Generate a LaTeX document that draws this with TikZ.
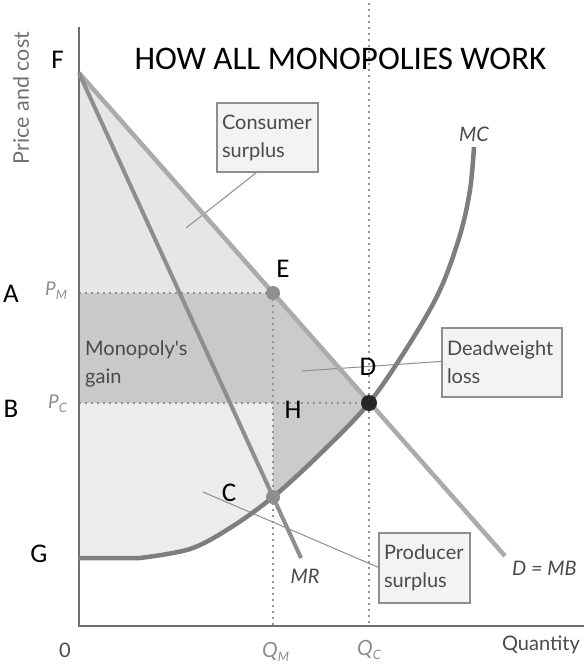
\documentclass[tikz,border=0pt]{standalone}
\usepackage{fontspec}
\setmainfont{Carlito}
\newfontfamily\lato{Lato}
\usetikzlibrary{calc}
\definecolor{csurf}{HTML}{E6E6E6}
\definecolor{mgain}{HTML}{C9C9C9}
\definecolor{psurf}{HTML}{ECECEC}
\definecolor{dwl}{HTML}{CBCBCB}
\definecolor{dline}{HTML}{ABABAB}
\definecolor{mrline}{HTML}{8E8E8E}
\definecolor{mcline}{HTML}{7E7E7E}
\definecolor{txtc}{HTML}{4A4A4A}
\definecolor{ltxt}{HTML}{8C8C8C}
\definecolor{boxc}{HTML}{8E8E8E}
\definecolor{boxfill}{HTML}{F3F3F3}
\definecolor{axisc}{HTML}{707070}
\definecolor{dotc}{HTML}{939393}
\newcommand\lowsub[1]{\raisebox{-0.45ex}{\fontsize{13}{13}\selectfont #1}}
\begin{document}
\begin{tikzpicture}[x=1pt,y=-1pt,
  lbl/.style={font=\fontsize{27}{30}\selectfont, text=black, inner sep=0, anchor=base},
  gtxt/.style={font=\lato\fontsize{20}{28}\selectfont, text=txtc, inner sep=0},
  itxt/.style={font=\lato\itshape\fontsize{20}{24}\selectfont, text=txtc, inner sep=0},
  ptxt/.style={font=\lato\itshape\fontsize{19}{24}\selectfont, text=ltxt, inner sep=0, anchor=base west},
  lbox/.style={draw=boxc, fill=boxfill, line width=1.2pt, align=left, inner xsep=5pt, inner ysep=0pt,
    font=\lato\fontsize{20}{28}\selectfont, text=txtc},
  ptr/.style={draw=boxc, line width=1pt},
  dotline/.style={draw=dotc, line width=1.8pt, dash pattern=on 1.8pt off 4.2pt},
  curve/.style={line width=4.5pt},
  pt/.style={circle, inner sep=0pt}]
\useasboundingbox (0,0) rectangle (584,668);
% key coordinates
\coordinate (O) at (79,626);
\coordinate (Ytop) at (79,27);
\coordinate (Xend) at (584,626);
\coordinate (F) at (79,73);
\coordinate (E) at (273,293);
\coordinate (D) at (369,403);
\coordinate (C) at (273,497);
\coordinate (H) at (273,403);
\coordinate (Dend) at (505,556);
\coordinate (MRend) at (301,558);
\coordinate (PM) at (79,293);
\coordinate (PC) at (79,403);
\coordinate (QM) at (273,626);
\coordinate (QC) at (369,626);
\coordinate (QCtop) at (369,3);
\coordinate (csp) at (186,228);
\coordinate (dwp) at (302,371);
\coordinate (psp) at (203,492);
% shaded areas
\fill[csurf] (F) -- (E) -- (PM) -- cycle;
\fill[mgain] (PM) -- (E) -- (H) -- (PC) -- cycle;
\fill[psurf] (PC) -- (H) -- (273,565) -- (79,565) -- cycle;
\fill[dwl] (E) -- (D) -- (369,565) -- (273,565) -- cycle;
\fill[white] (79,558) -- plot[smooth, tension=0.55] coordinates {(140,558) (190,549) (230,528) (273,497) (320,454) (369,403) (410,343) (440,290) (460,235) (470,190) (474,147)} -- (584,147) -- (584,610) -- (79,610) -- cycle;
% dotted guides
\draw[dotline] (PM) -- (E);
\draw[dotline] (PC) -- (D);
\draw[dotline] (E) -- (QM);
\draw[dotline] (QCtop) -- (QC);
% axes
\draw[axisc, line width=1.5pt] (Ytop) -- (O) -- (Xend);
% label boxes and pointers
\node[lbox, minimum width=101pt, minimum height=69pt, text width=91pt] (cbox) at (267.5,137.5) {Consumer\\surplus};
\node[lbox, minimum width=120pt, minimum height=69pt, text width=110pt] (dbox) at (502,362.5) {Deadweight\\loss};
\node[lbox, minimum width=91pt, minimum height=70pt, text width=81pt] (pbox) at (424.5,568) {Producer\\surplus};
\draw[ptr] ($(cbox.south west)+(40,0)$) -- (csp);
\draw[ptr] ($(dbox.north west)+(0,34)$) -- (dwp);
\draw[ptr] ($(pbox.north west)+(0,35)$) -- (psp);
% curves
\draw[curve, dline] (F) -- (Dend);
\draw[curve, mrline, line width=4pt] (F) -- (MRend);
\draw[curve, mcline] (79,558) -- plot[smooth, tension=0.55] coordinates {(140,558) (190,549) (230,528) (273,497) (320,454) (369,403) (410,343) (440,290) (460,235) (470,190) (474,147)};
% points
\node[pt, fill=mrline, minimum size=14pt] (Edot) at (E) {};
\node[pt, fill=black!85, minimum size=16pt] (Ddot) at (D) {};
\node[pt, fill=mrline, minimum size=14pt] (Cdot) at (C) {};
% boxes again on top of the curves
\node[lbox, minimum width=101pt, minimum height=69pt, text width=91pt] (cbox2) at (267.5,137.5) {Consumer\\surplus};
\node[lbox, minimum width=120pt, minimum height=69pt, text width=110pt] (dbox2) at (502,362.5) {Deadweight\\loss};
\node[lbox, minimum width=91pt, minimum height=70pt, text width=81pt] (pbox2) at (424.5,568) {Producer\\surplus};
% grey labels
\node[gtxt, align=left, anchor=north west] (mg) at (85,341) {Monopoly's\\gain};
\node[gtxt, rotate=90, font=\lato\fontsize{21.5}{26}\selectfont, text=ltxt!80!black] (ylab) at (21,98) {Price and cost};
\node[gtxt, anchor=base] (zero) at (65,657) {0};
\node[gtxt, anchor=base east] (qty) at (580,650) {Quantity};
\node[itxt, anchor=base] (mclab) at (474,142) {MC};
\node[itxt, anchor=base] (mrlab) at (305,583) {MR};
\node[itxt, anchor=base west] (dmb) at (512,575) {D = MB};
\node[ptxt] (pmlab) at (45,295) {P\lowsub{M}};
\node[ptxt] (pclab) at (48,408) {P\lowsub{C}};
\node[ptxt, font=\lato\itshape\fontsize{21}{24}\selectfont] (qmlab) at (262,657) {Q\lowsub{M}};
\node[ptxt, font=\lato\itshape\fontsize{21}{24}\selectfont] (qclab) at (357,655) {Q\lowsub{C}};
% black letter labels
\node[lbl, font=\fontsize{33}{36}\selectfont] (title) at (340.5,70) {HOW ALL MONOPOLIES WORK};
\node[lbl] (lF) at (57.5,69) {F};
\node[lbl] (lA) at (11,302) {A};
\node[lbl] (lB) at (11,417) {B};
\node[lbl] (lE) at (283,277) {E};
\node[lbl] (lH) at (293,418) {H};
\node[lbl] (lD) at (368,375) {D};
\node[lbl] (lC) at (229,501) {C};
\node[lbl] (lG) at (39,562) {G};
\end{tikzpicture}
\end{document}
